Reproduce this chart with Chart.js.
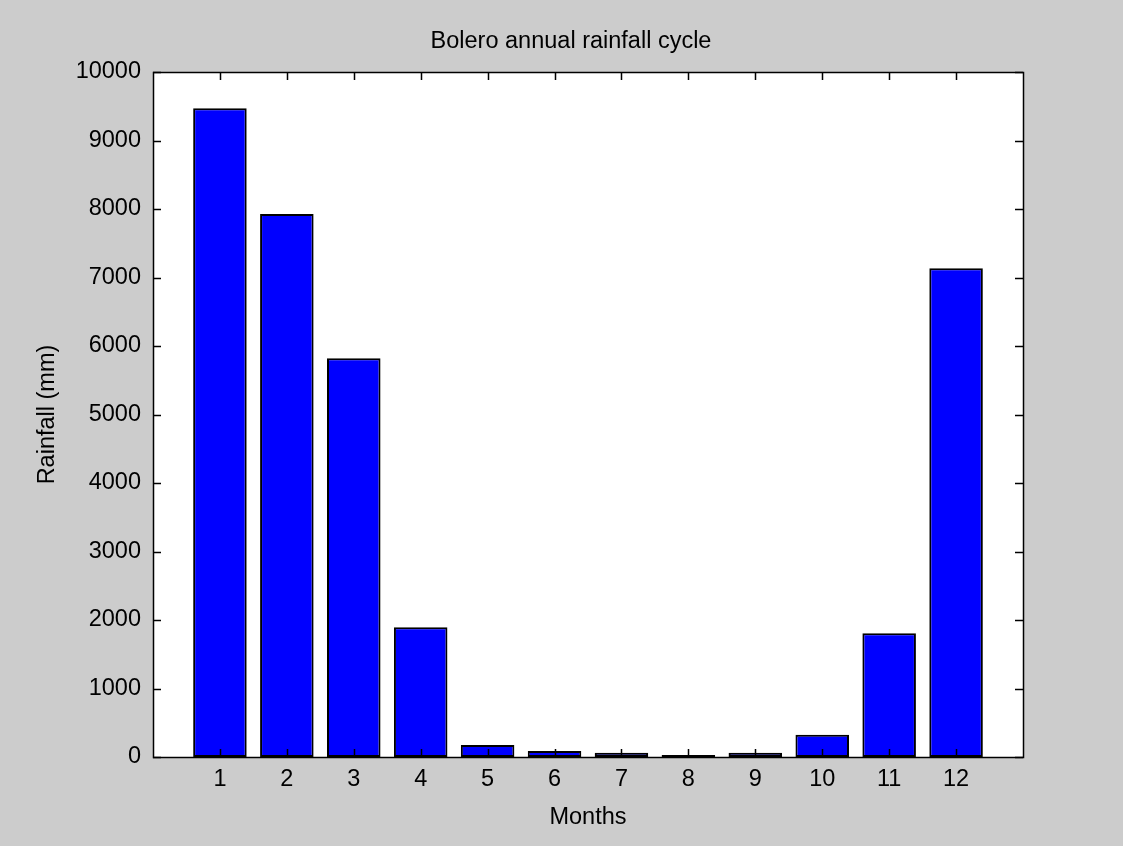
<!DOCTYPE html>
<html>
<head>
<meta charset="utf-8">
<title>Bolero annual rainfall cycle</title>
<script src="https://cdn.jsdelivr.net/npm/chart.js@4/dist/chart.umd.min.js"></script>
<style>
  html, body { margin: 0; padding: 0; background: #cccccc; }
  #wrap { width: 1123px; height: 846px; position: relative; }
</style>
</head>
<body>
<div id="wrap"><canvas id="rainChart"></canvas></div>
<script>
// Data
const months = [1, 2, 3, 4, 5, 6, 7, 8, 9, 10, 11, 12];
const rainfall = [9470, 7927, 5820, 1893, 175, 88, 63, 29, 63, 326, 1806, 7134];
const yTicks = [0, 1000, 2000, 3000, 4000, 5000, 6000, 7000, 8000, 9000, 10000];
const chartTitle = 'Bolero annual rainfall cycle';

const FONT = 'Arial, "Liberation Sans", Helvetica, sans-serif';

// White axes background
const axesBackground = {
    id: 'axesBackground',
    beforeDraw(chart) {
        const { ctx, chartArea: a } = chart;
        ctx.save();
        ctx.fillStyle = '#ffffff';
        ctx.fillRect(a.left, a.top, a.right - a.left, a.bottom - a.top);
        ctx.restore();
    }
};

// Title sitting above the axes, a bit left of the axes centre like the original
const axesTitle = {
    id: 'axesTitle',
    afterDraw(chart) {
        const { ctx, chartArea: a } = chart;
        ctx.save();
        ctx.fillStyle = '#000000';
        ctx.font = '23.5px ' + FONT;
        ctx.textAlign = 'center';
        ctx.textBaseline = 'middle';
        ctx.fillText(chartTitle, (a.left + a.right) / 2 - 17, a.top - 30);
        ctx.restore();
    }
};

// Box outline and inward tick marks on all four sides
const boxTicks = {
    id: 'boxTicks',
    afterDraw(chart) {
        const { ctx, chartArea: a, scales } = chart;
        const len = 8;
        ctx.save();
        ctx.strokeStyle = '#000000';
        ctx.lineWidth = 1.5;
        ctx.beginPath();
        scales.y.ticks.forEach(t => {
            const y = Math.round(scales.y.getPixelForValue(t.value)) + 0.5;
            ctx.moveTo(a.left, y); ctx.lineTo(a.left + len, y);
            ctx.moveTo(a.right, y); ctx.lineTo(a.right - len, y);
        });
        scales.x.ticks.forEach(t => {
            const x = Math.round(scales.x.getPixelForValue(t.value)) + 0.5;
            ctx.moveTo(x, a.bottom); ctx.lineTo(x, a.bottom - len);
            ctx.moveTo(x, a.top); ctx.lineTo(x, a.top + len);
        });
        ctx.stroke();
        ctx.strokeRect(Math.round(a.left) + 0.5, Math.round(a.top) + 0.5,
            Math.round(a.right - a.left), Math.round(a.bottom - a.top));
        ctx.restore();
    }
};

const ctx = document.getElementById('rainChart').getContext('2d');
new Chart(ctx, {
    type: 'bar',
    data: {
        datasets: [{
            label: 'Rainfall',
            data: months.map((m, i) => ({ x: m, y: rainfall[i] })),
            backgroundColor: '#0000ff',
            borderColor: '#000000',
            borderWidth: 2,
            borderSkipped: false,
            barPercentage: 0.8,
            categoryPercentage: 1.0
        }]
    },
    options: {
        responsive: true,
        maintainAspectRatio: false,
        animation: false,
        layout: { padding: { left: 0, right: 100, top: 72, bottom: 0 } },
        plugins: {
            legend: { display: false },
            tooltip: { enabled: false },
            title: { display: false }
        },
        scales: {
            x: {
                type: 'linear',
                min: 0,
                max: 13,
                offset: false,
                afterBuildTicks(scale) {
                    scale.ticks = months.map(v => ({ value: v }));
                },
                afterFit(scale) { scale.height = 89; },
                grid: { display: false, drawTicks: false, offset: false },
                border: { display: false },
                ticks: {
                    color: '#000000',
                    padding: 8,
                    maxRotation: 0,
                    font: { family: FONT, size: 23.5 }
                },
                title: {
                    display: true,
                    text: 'Months',
                    color: '#000000',
                    font: { family: FONT, size: 23.5 },
                    padding: { top: 0, bottom: 14 }
                }
            },
            y: {
                min: 0,
                max: 10000,
                afterBuildTicks(scale) {
                    scale.ticks = yTicks.map(v => ({ value: v }));
                },
                afterFit(scale) { scale.width = 153; },
                grid: { display: false, drawTicks: false },
                border: { display: false },
                ticks: {
                    color: '#000000',
                    padding: 12,
                    font: { family: FONT, size: 23.5 },
                    callback: v => String(v)
                },
                title: {
                    display: true,
                    text: 'Rainfall (mm)',
                    color: '#000000',
                    font: { family: FONT, size: 23.5 },
                    padding: { top: 33, bottom: 0 }
                }
            }
        }
    },
    plugins: [axesBackground, axesTitle, boxTicks]
});
</script>
</body>
</html>
